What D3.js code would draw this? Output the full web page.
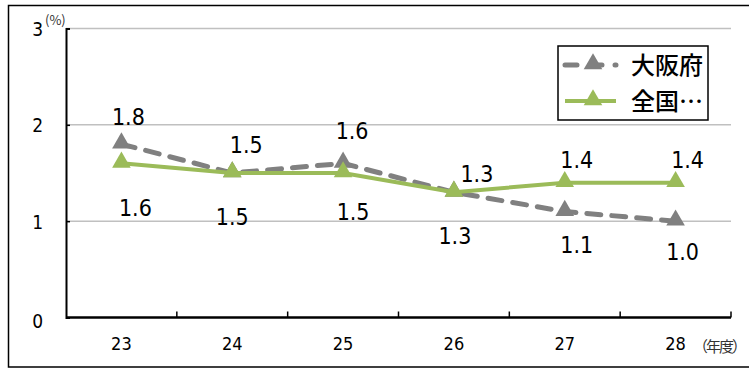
<!DOCTYPE html>
<html>
<head>
<meta charset="utf-8">
<script src="https://cdn.jsdelivr.net/npm/d3@7"></script>
<style>
  body { margin: 0; background: #fff; }
  svg { display: block; }
  .num { font-family: "Liberation Sans Narrow", "DejaVu Sans Condensed", "Liberation Sans", sans-serif; }
  .jp { font-family: "Noto Sans CJK JP", sans-serif; }
</style>
</head>
<body>
<div id="chart"></div>
<script>
var years = ["23", "24", "25", "26", "27", "28"],
    osaka = [1.8, 1.5, 1.6, 1.3, 1.1, 1.0],
    zenkoku = [1.6, 1.5, 1.5, 1.3, 1.4, 1.4],
    seriesNames = ["大阪府", "全国…"],
    yTicks = [0, 1, 2, 3];

// where each data label sits relative to its point (dx, dy)
var osakaLabelPos = [[7, -27], [14, -28], [9, -33], [1, 43], [12, 33], [7, 31]],
    zenkokuLabelPos = [[14, 44], [0, 44], [10, 39], [23, -19], [12, -23], [12, -23]];

var W = 749, H = 368,
    margin = { top: 28.5, right: 18, bottom: 50.5, left: 66 },
    width = W - margin.left - margin.right,
    height = H - margin.top - margin.bottom;

var svg = d3.select("#chart").append("svg").attr("width", W).attr("height", H);

// outer frame (right side is cut off in the picture)
svg.append("path")
    .attr("d", "M749,5.5 H8.5 V367 H749")
    .attr("fill", "none")
    .attr("stroke", "#000")
    .attr("stroke-width", 1.5);

var g = svg.append("g").attr("transform", "translate(" + margin.left + "," + margin.top + ")");

var x = d3.scaleBand().domain(years).range([0, width]);
var y = d3.scaleLinear().domain([0, 3]).range([height, 0]);
var cx = function (d, i) { return x(years[i]) + x.bandwidth() / 2; };

// gridlines
g.selectAll(".grid")
    .data(yTicks.filter(function (t) { return t > 0; }))
    .enter().append("line")
    .attr("x1", 0).attr("x2", width)
    .attr("y1", function (d) { return y(d); })
    .attr("y2", function (d) { return y(d); })
    .attr("stroke", "#c0c0c0")
    .attr("stroke-width", 1.5);

// y axis
var yAxis = g.append("g")
    .call(d3.axisLeft(y).tickValues(yTicks).tickFormat(d3.format("d")).tickSize(-4).tickPadding(23));
yAxis.select(".domain").attr("stroke", "#000").attr("stroke-width", 2);
yAxis.selectAll(".tick line").attr("stroke", "#000").attr("stroke-width", 1.5);
yAxis.selectAll("text")
    .attr("class", "num")
    .attr("font-size", 19)
    .attr("fill", "#000")
    .attr("dy", function (d) { return d === 0 ? "0.55em" : "0.36em"; });

// x axis with ticks between categories
var xAxis = g.append("g")
    .attr("transform", "translate(0," + height + ")")
    .call(d3.axisBottom(x).tickSize(0).tickPadding(20));
xAxis.select(".domain").remove();
xAxis.selectAll("text").attr("class", "num").attr("font-size", 18).attr("fill", "#000");
g.append("line")
    .attr("x1", 0).attr("x2", width)
    .attr("y1", height).attr("y2", height)
    .attr("stroke", "#000").attr("stroke-width", 2.5);
g.selectAll(".xtick")
    .data(years.slice(1).concat(["end"]))
    .enter().append("line")
    .attr("x1", function (d, i) { return x.bandwidth() * (i + 1); })
    .attr("x2", function (d, i) { return x.bandwidth() * (i + 1); })
    .attr("y1", height).attr("y2", height - 6)
    .attr("stroke", "#000").attr("stroke-width", 1.5);

// unit labels
svg.append("text").attr("class", "jp")
    .attr("x", 45).attr("y", 25)
    .attr("font-size", 13).attr("fill", "#333")
    .text("(%)");
svg.append("text").attr("class", "jp")
    .attr("x", 693).attr("y", 352)
    .attr("font-size", 15).attr("fill", "#333")
    .attr("letter-spacing", -2)
    .text("（年度）");

var line = d3.line().x(cx).y(function (d) { return y(d); });
var tri = d3.symbol().type(d3.symbolTriangle).size(150);

var series = [
    { name: seriesNames[0], values: osaka, color: "#808080", dash: "14,11", width: 5, labels: osakaLabelPos },
    { name: seriesNames[1], values: zenkoku, color: "#9bbb59", dash: null, width: 4, labels: zenkokuLabelPos }
];

series.forEach(function (s) {
    g.append("path")
        .datum(s.values)
        .attr("d", line)
        .attr("fill", "none")
        .attr("stroke", s.color)
        .attr("stroke-width", s.width)
        .attr("stroke-linecap", s.dash ? "round" : "butt")
        .attr("stroke-dasharray", s.dash);
    g.selectAll(null)
        .data(s.values)
        .enter().append("path")
        .attr("d", tri)
        .attr("transform", function (d, i) { return "translate(" + cx(d, i) + "," + (y(d) - 1) + ")"; })
        .attr("fill", s.color);
});

series.forEach(function (s) {
    g.selectAll(null)
        .data(s.values)
        .enter().append("text")
        .attr("class", "num")
        .attr("x", function (d, i) { return cx(d, i) + s.labels[i][0]; })
        .attr("y", function (d, i) { return y(d) + s.labels[i][1]; })
        .attr("dy", "0.36em")
        .attr("text-anchor", "middle")
        .attr("font-size", 23)
        .attr("fill", "#000")
        .text(d3.format(".1f"));
});

// legend
var legend = svg.append("g").attr("transform", "translate(558,46)");
legend.append("rect")
    .attr("width", 150).attr("height", 74)
    .attr("fill", "#fff").attr("stroke", "#000").attr("stroke-width", 1.5);
series.forEach(function (s, i) {
    var ly = 19 + i * 36;
    legend.append("line")
        .attr("x1", 7).attr("x2", 58)
        .attr("y1", ly).attr("y2", ly)
        .attr("stroke", s.color)
        .attr("stroke-width", s.width)
        .attr("stroke-linecap", s.dash ? "round" : "butt")
        .attr("stroke-dasharray", s.dash ? "12,13" : null);
    legend.append("path")
        .attr("d", tri)
        .attr("transform", "translate(35," + (ly - 1) + ")")
        .attr("fill", s.color);
    legend.append("text")
        .attr("class", "jp")
        .attr("x", 73).attr("y", ly)
        .attr("dy", "0.36em")
        .attr("font-size", 24)
        .attr("font-weight", 500)
        .attr("fill", "#000")
        .text(s.name);
});
</script>
</body>
</html>
